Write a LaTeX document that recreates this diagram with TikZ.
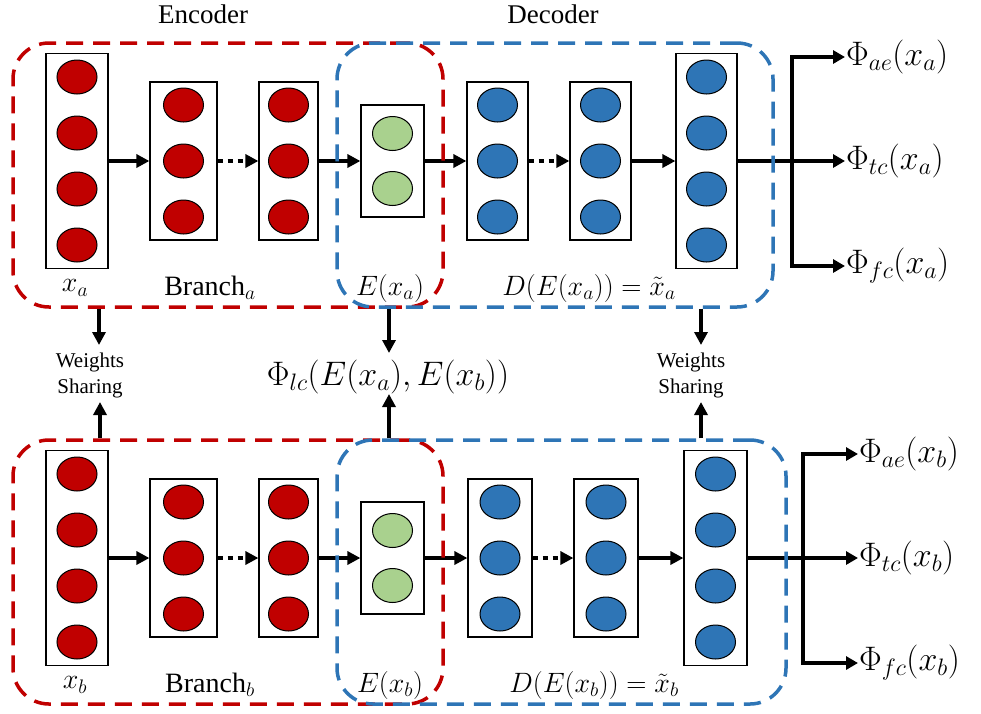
\RequirePackage{fix-cm}
\documentclass[tikz,border=0pt]{standalone}
\usepackage{fontspec}
\setmainfont{Liberation Serif}
\usetikzlibrary{arrows.meta,shapes.geometric}

\definecolor{encred}{RGB}{192,0,0}
\definecolor{decblue}{RGB}{46,117,182}
\definecolor{codegreen}{RGB}{169,209,142}

% one layer: a white box holding a column of neurons
% #1 name, #2 x, #3 y, #4 width, #5 height, #6 colour, #7 count, #8 spacing
\newcommand\nnlayer[8]{%
  \node[layerbox, minimum width=#4pt, minimum height=#5pt] (#1) at (#2,#3) {};
  \foreach \k in {1,...,#7}
    \node[neuron, fill=#6] (#1-\k) at (#2,{#3+(\k-(#7+1)/2)*#8}) {};
}

\begin{document}
\begin{tikzpicture}[x=1pt,y=-1pt,
  layerbox/.style={draw=black, line width=1.2pt, fill=white, inner sep=0pt},
  neuron/.style={ellipse, draw=black, line width=1pt, minimum width=40pt,
                 minimum height=34pt, inner sep=0pt},
  flow/.style={line width=3.5pt, -{Triangle[length=13pt,width=13pt]}},
  dotflow/.style={flow, dash pattern=on 5pt off 5pt},
  outline/.style={line width=3.5pt},
  outarr/.style={line width=3.5pt, -{Triangle[length=12pt,width=13pt]}},
  varr/.style={line width=3.5pt, -{Triangle[length=13pt,width=13pt]}},
  groupbox/.style={rectangle, rounded corners=36pt, line width=3.5pt,
                   dash pattern=on 17pt off 10pt, inner sep=0pt},
  lbl/.style={inner sep=1pt, font=\fontsize{28}{33}\selectfont},
  outlbl/.style={anchor=west, inner sep=1pt, font=\fontsize{34}{40}\selectfont},
  title/.style={inner sep=0pt, font=\fontsize{27}{32}\selectfont},
  wslbl/.style={align=center, inner sep=2pt, font=\fontsize{21}{26}\selectfont},
]
\useasboundingbox (0,0) rectangle (981,713);

\node[title] (enc-title) at (203,14) {Encoder};
\node[title] (dec-title) at (553,14) {Decoder};

\foreach \rw/\yo/\pd/\qd/\pe/\qe/\pf/\qf/\bR/\xj/\xo/\xl in
  {a/0/497.5/61/600.5/61/706.5/61/773/792/845/589,
   b/397/500/64/606/64/715.5/63/786/803/858/594}{
  % encoder branch
  \nnlayer{\rw-c1}{77}{161+\yo}{62}{215}{encred}{4}{56}
  \nnlayer{\rw-c2}{183.5}{161+\yo}{67}{158}{encred}{3}{56}
  \nnlayer{\rw-c3}{288.5}{161+\yo}{59}{158}{encred}{3}{56}
  % code layer
  \nnlayer{\rw-code}{392.5}{161+\yo}{63}{112}{codegreen}{2}{55}
  % decoder
  \nnlayer{\rw-c4}{\pd}{161+\yo}{\qd}{158}{decblue}{3}{56}
  \nnlayer{\rw-c5}{\pe}{161+\yo}{\qe}{158}{decblue}{3}{56}
  \nnlayer{\rw-c6}{\pf}{161+\yo}{\qf}{215}{decblue}{4}{56}

  \draw[flow] (\rw-c1.east) -- (\rw-c2.west);
  \draw[dotflow] (\rw-c2.east) -- (\rw-c3.west);
  \draw[flow] (\rw-c3.east) -- (\rw-code.west);
  \draw[flow] (\rw-code.east) -- (\rw-c4.west);
  \draw[dotflow] (\rw-c4.east) -- (\rw-c5.west);
  \draw[flow] (\rw-c5.east) -- (\rw-c6.west);

  % losses on the reconstruction
  \node[outlbl] (\rw-ae) at (\xo,57+\yo) {$\Phi_{ae}(x_\rw)$};
  \node[outlbl] (\rw-tc) at (\xo,161+\yo) {$\Phi_{tc}(x_\rw)$};
  \node[outlbl] (\rw-fc) at (\xo,266+\yo) {$\Phi_{fc}(x_\rw)$};
  \coordinate (\rw-j) at (\xj,161+\yo);
  \draw[outline] (\rw-c6.east) -- (\rw-j);
  \draw[outarr] (\rw-j) |- (\rw-ae.west);
  \draw[outarr] (\rw-j) -- (\rw-tc.west);
  \draw[outarr] (\rw-j) |- (\rw-fc.west);

  % labels under the layers
  \node[lbl] (\rw-l1) at (75,288+\yo) {$x_\rw$};
  \node[lbl] (\rw-l2) at (210,288+\yo) {$\mathrm{Branch}_\rw$};
  \node[lbl] (\rw-l3) at (390,288+\yo) {$E(x_\rw)$};
  \node[lbl] (\rw-l4) at (\xl,288+\yo) {$D(E(x_\rw)) = \tilde{x}_\rw$};

  % encoder and decoder groups
  \pgfmathsetmacro\decw{\bR-337}
  \pgfmathsetmacro\decx{(337+\bR)/2}
  \node[groupbox, draw=encred, minimum width=430pt, minimum height=264pt]
    (\rw-enc) at (228,175+\yo) {};
  \node[groupbox, draw=decblue, minimum width=\decw pt, minimum height=264pt]
    (\rw-dec) at (\decx,175+\yo) {};
}

% shared weights and the latent loss between the two branches
\node[wslbl] (ws1) at (90,375) {Weights\\Sharing};
\node[wslbl] (ws2) at (691,375) {Weights\\Sharing};
\node[inner sep=1pt, font=\fontsize{34}{40}\selectfont] (lc) at (388,377)
  {$\Phi_{lc}(E(x_a),E(x_b))$};

\coordinate (ws1-top) at (99,345);
\coordinate (ws1-bot) at (100,402);
\coordinate (ws2-top) at (701,345);
\coordinate (ws2-bot) at (701,402);
\coordinate (lc-top) at (389,353);
\coordinate (lc-bot) at (389,394);

\draw[varr] (a-enc.south -| ws1-top) -- (ws1-top);
\draw[varr] (b-enc.north -| ws1-bot) -- (ws1-bot);
\draw[varr] (a-dec.south -| ws2-top) -- (ws2-top);
\draw[varr] (b-dec.north -| ws2-bot) -- (ws2-bot);
\draw[varr] (a-enc.south -| lc-top) -- (lc-top);
\draw[varr] (b-enc.north -| lc-bot) -- (lc-bot);
\end{tikzpicture}
\end{document}
